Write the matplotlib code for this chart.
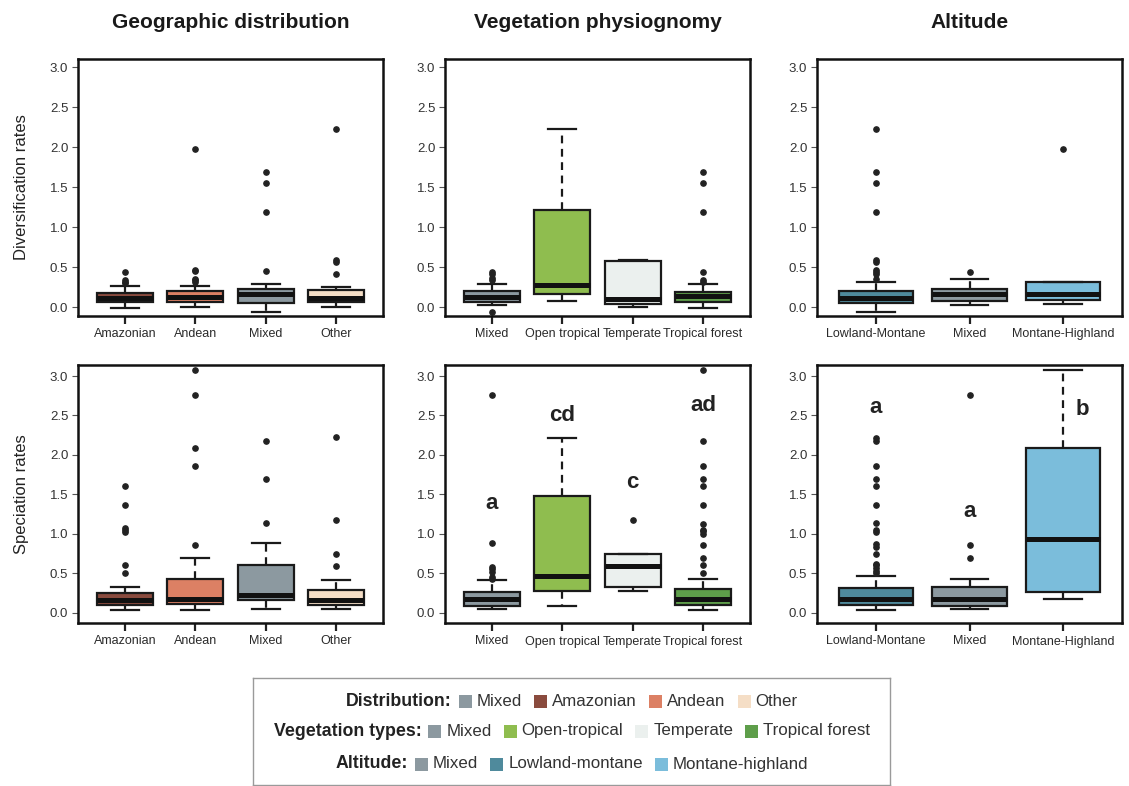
import numpy as np
import matplotlib
matplotlib.use('Agg')
import matplotlib.pyplot as plt
from matplotlib.patches import Rectangle

plt.rcParams['font.family'] = ['Liberation Sans', 'DejaVu Sans']

# Colores
c_mixed = '#8c99a0'
c_amazon = '#8a4b3e'
c_andean = '#dc8064'
c_other = '#f5dec6'
c_open = '#8fbd4f'
c_temp = '#ebf0ee'
c_tropf = '#5e9e4a'
c_lowl = '#4f8a9c'
c_month = '#7bbddb'

# Geographic distribution
geo_cats = ['Amazonian', 'Andean', 'Mixed', 'Other']
geo_colors = [c_amazon, c_andean, c_mixed, c_other]

geo_div_q1 = [0.06, 0.06, 0.05, 0.06]
geo_div_med = [0.11, 0.13, 0.17, 0.12]
geo_div_q3 = [0.18, 0.20, 0.23, 0.21]
geo_div_lo = [-0.01, 0.00, -0.06, 0.00]
geo_div_hi = [0.26, 0.27, 0.29, 0.25]
geo_div_out = [[0.30, 0.32, 0.34, 0.44],
               [0.32, 0.34, 0.35, 0.45, 0.47, 1.97],
               [0.45, 1.19, 1.55, 1.69],
               [0.41, 0.57, 0.59, 2.22]]

geo_spe_q1 = [0.10, 0.105, 0.16, 0.10]
geo_spe_med = [0.16, 0.17, 0.22, 0.16]
geo_spe_q3 = [0.25, 0.43, 0.60, 0.29]
geo_spe_lo = [0.03, 0.04, 0.05, 0.05]
geo_spe_hi = [0.33, 0.70, 0.88, 0.41]
geo_spe_out = [[0.51, 0.60, 1.02, 1.05, 1.07, 1.36, 1.61],
               [0.86, 1.86, 2.09, 2.76, 3.08],
               [1.14, 1.70, 2.18],
               [0.59, 0.74, 1.17, 2.23]]

# Vegetation physiognomy
veg_cats = ['Mixed', 'Open tropical', 'Temperate', 'Tropical forest']
veg_colors = [c_mixed, c_open, c_temp, c_tropf]

veg_div_q1 = [0.06, 0.17, 0.035, 0.06]
veg_div_med = [0.13, 0.28, 0.10, 0.14]
veg_div_q3 = [0.20, 1.22, 0.58, 0.19]
veg_div_lo = [0.03, 0.08, 0.00, -0.01]
veg_div_hi = [0.29, 2.22, 0.59, 0.29]
veg_div_out = [[-0.06, 0.34, 0.36, 0.42, 0.44],
               [],
               [],
               [0.32, 0.34, 0.44, 1.19, 1.55, 1.69]]

veg_spe_q1 = [0.09, 0.28, 0.33, 0.10]
veg_spe_med = [0.18, 0.47, 0.59, 0.18]
veg_spe_q3 = [0.26, 1.475, 0.75, 0.30]
veg_spe_lo = [0.05, 0.09, 0.27, 0.03]
veg_spe_hi = [0.41, 2.22, 0.75, 0.43]
veg_spe_out = [[0.43, 0.45, 0.52, 0.55, 0.58, 0.88, 2.76],
               [],
               [1.17],
               [0.50, 0.60, 0.70, 0.86, 1.00, 1.03, 1.05, 1.13, 1.36, 1.61,
                1.70, 1.86, 2.18, 3.08]]
veg_letters = ['a', 'cd', 'c', 'ad']
veg_letter_y = [1.39, 2.50, 1.65, 2.63]

# Altitude
alt_cats = ['Lowland-Montane', 'Mixed', 'Montane-Highland']
alt_colors = [c_lowl, c_mixed, c_month]

alt_div_q1 = [0.055, 0.08, 0.095]
alt_div_med = [0.12, 0.16, 0.17]
alt_div_q3 = [0.20, 0.23, 0.32]
alt_div_lo = [-0.06, 0.03, 0.04]
alt_div_hi = [0.32, 0.35, 0.32]
alt_div_out = [[0.35, 0.42, 0.44, 0.46, 0.57, 0.59, 1.19, 1.55, 1.69, 2.22],
               [0.44],
               [1.97]]

alt_spe_q1 = [0.10, 0.09, 0.265]
alt_spe_med = [0.18, 0.18, 0.94]
alt_spe_q3 = [0.31, 0.325, 2.09]
alt_spe_lo = [0.03, 0.05, 0.17]
alt_spe_hi = [0.47, 0.43, 3.08]
alt_spe_out = [[0.50, 0.53, 0.57, 0.60, 0.62, 0.74, 0.83, 0.87, 1.02, 1.05,
                1.14, 1.36, 1.61, 1.70, 1.86, 2.18, 2.22],
               [0.70, 0.86, 2.76],
               []]
alt_letters = ['a', 'a', 'b']
alt_letter_y = [2.60, 1.28, 2.58]

# Leyenda
leg_heads = ['Distribution:', 'Vegetation types:', 'Altitude:']
leg_labels = [['Mixed', 'Amazonian', 'Andean', 'Other'],
              ['Mixed', 'Open-tropical', 'Temperate', 'Tropical forest'],
              ['Mixed', 'Lowland-montane', 'Montane-highland']]
leg_colors = [[c_mixed, c_amazon, c_andean, c_other],
              [c_mixed, c_open, c_temp, c_tropf],
              [c_mixed, c_lowl, c_month]]

W, H = 1129, 786
EDGE = '#1a1a1a'


def make_stats(q1, med, q3, lo, hi, out):
    return [dict(q1=a, med=b, q3=c, whislo=d, whishi=e, fliers=f)
            for a, b, c, d, e, f in zip(q1, med, q3, lo, hi, out)]


def panel(rect, cats, colors, stats, pad, ylim, letters=None, letter_y=None,
          letter_dx=None):
    ax = fig.add_axes(rect)
    pos = np.arange(1, len(cats) + 1)
    bp = ax.bxp(stats, positions=pos, widths=0.8, patch_artist=True,
                boxprops=dict(edgecolor=EDGE, linewidth=1.6),
                medianprops=dict(color='#111111', linewidth=3.6,
                                 solid_capstyle='butt'),
                whiskerprops=dict(color=EDGE, linewidth=1.6,
                                  linestyle=(0, (3.5, 2.5))),
                capprops=dict(color=EDGE, linewidth=1.6),
                flierprops=dict(marker='o', markersize=3.8,
                                markerfacecolor='#222222',
                                markeredgecolor='#222222'))
    for patch, col in zip(bp['boxes'], colors):
        patch.set_facecolor(col)
    ax.set_xlim(1 - pad, len(cats) + pad)
    ax.set_ylim(*ylim)
    ax.set_xticks(pos)
    ax.set_xticklabels(cats, fontsize=9, color='#2a2a2a')
    ticks = np.arange(0, 3.01, 0.5)
    ax.set_yticks(ticks)
    ax.set_yticklabels(['%.1f' % v for v in ticks], fontsize=9.5,
                       color='#333333')
    ax.tick_params(axis='x', length=6, width=1.6, pad=3, color='#222222')
    ax.tick_params(axis='y', length=4, width=0.8, pad=3, color='#555555')
    for sp in ax.spines.values():
        sp.set_linewidth(1.8)
        sp.set_color('#111111')
    if letters:
        if letter_dx is None:
            letter_dx = [0] * len(letters)
        for p, t, y, dx in zip(pos, letters, letter_y, letter_dx):
            ax.text(p + dx, y, t, ha='center', va='center', fontsize=16,
                    fontweight='bold', color='#222222')
    return ax


fig = plt.figure(figsize=(W / 100, H / 100), dpi=100)

cols_x = [78, 445, 817]
col_w = 305
top_row = (59, 316)
bot_row = (365, 623)


def rect(x, row):
    return [x / W, 1 - row[1] / H, col_w / W, (row[1] - row[0]) / H]


ylim_top = (-0.11, 3.1)
ylim_bot = (-0.13, 3.14)

panel(rect(cols_x[0], top_row), geo_cats, geo_colors,
      make_stats(geo_div_q1, geo_div_med, geo_div_q3, geo_div_lo, geo_div_hi,
                 geo_div_out), 0.667, ylim_top)
panel(rect(cols_x[1], top_row), veg_cats, veg_colors,
      make_stats(veg_div_q1, veg_div_med, veg_div_q3, veg_div_lo, veg_div_hi,
                 veg_div_out), 0.667, ylim_top)
panel(rect(cols_x[2], top_row), alt_cats, alt_colors,
      make_stats(alt_div_q1, alt_div_med, alt_div_q3, alt_div_lo, alt_div_hi,
                 alt_div_out), 0.63, ylim_top)

panel(rect(cols_x[0], bot_row), geo_cats, geo_colors,
      make_stats(geo_spe_q1, geo_spe_med, geo_spe_q3, geo_spe_lo, geo_spe_hi,
                 geo_spe_out), 0.667, ylim_bot)
panel(rect(cols_x[1], bot_row), veg_cats, veg_colors,
      make_stats(veg_spe_q1, veg_spe_med, veg_spe_q3, veg_spe_lo, veg_spe_hi,
                 veg_spe_out), 0.667, ylim_bot, veg_letters, veg_letter_y)
panel(rect(cols_x[2], bot_row), alt_cats, alt_colors,
      make_stats(alt_spe_q1, alt_spe_med, alt_spe_q3, alt_spe_lo, alt_spe_hi,
                 alt_spe_out), 0.63, ylim_bot, alt_letters, alt_letter_y,
      [0, 0, 0.21])

# Títulos
titles = ['Geographic distribution', 'Vegetation physiognomy', 'Altitude']
for x, t in zip(cols_x, titles):
    fig.text((x + col_w / 2) / W, 1 - 23 / H, t, ha='center', va='center',
             fontsize=15, fontweight='bold', color='#1a1a1a')

fig.text(22 / W, 1 - sum(top_row) / 2 / H, 'Diversification rates',
         rotation=90, ha='center', va='center', fontsize=12, color='#222222')
fig.text(22 / W, 1 - sum(bot_row) / 2 / H, 'Speciation rates',
         rotation=90, ha='center', va='center', fontsize=12, color='#222222')

# Leyenda
lx0, lx1, ly0, ly1 = 253, 890, 678, 785
lax = fig.add_axes([lx0 / W, 1 - ly1 / H, (lx1 - lx0) / W, (ly1 - ly0) / H])
lax.set_xlim(0, lx1 - lx0)
lax.set_ylim(ly1 - ly0, 0)
lax.set_xticks([])
lax.set_yticks([])
for sp in lax.spines.values():
    sp.set_color('#9a9a9a')
    sp.set_linewidth(1)

renderer = fig.canvas.get_renderer()
row_y = [23, 53, 86]
cx = 572 - lx0
for y, head, labels, colors in zip(row_y, leg_heads, leg_labels, leg_colors):
    th = lax.text(0, y, head, fontsize=12.8, fontweight='bold', va='center',
                  ha='left', color='#222222')
    hw = th.get_window_extent(renderer).width
    items = []
    for lab in labels:
        tt = lax.text(0, y, lab, fontsize=12.2, va='center', ha='left',
                      color='#333333')
        items.append((tt, tt.get_window_extent(renderer).width))
    sw, gs = 13, 5
    gaps = [7] + [12] * (len(items) - 1)
    total = hw + sum(g + sw + gs + w for g, (_, w) in zip(gaps, items))
    x = cx - total / 2
    th.set_x(x)
    x += hw
    for g, (tt, w), col in zip(gaps, items, colors):
        x += g
        lax.add_patch(Rectangle((x, y - sw / 2), sw, sw, facecolor=col,
                                edgecolor='none'))
        x += sw + gs
        tt.set_x(x)
        x += w

fig.savefig('out.png', dpi=100)
